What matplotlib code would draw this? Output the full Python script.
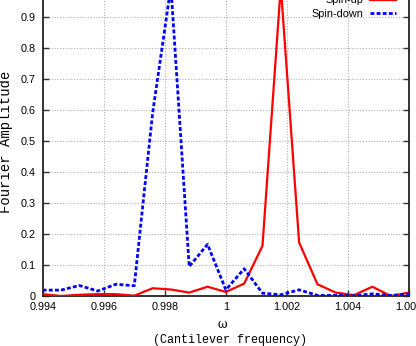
import matplotlib
matplotlib.use("Agg")
import matplotlib.pyplot as plt
from matplotlib.ticker import FixedLocator

omega = [0.9940, 0.9946, 0.9952, 0.9958, 0.9964, 0.9970, 0.9976, 0.9982, 0.9988,
         0.9994, 1.0000, 1.0006, 1.0012, 1.0018, 1.0024, 1.0030, 1.0036, 1.0042,
         1.0048, 1.0054, 1.0060]
spin_up = [0.006, 0.000, 0.004, 0.006, 0.006, 0.001, 0.025, 0.021, 0.011,
           0.030, 0.013, 0.040, 0.162, 1.000, 0.173, 0.038, 0.011, 0.003,
           0.030, 0.000, 0.011]
spin_down = [0.019, 0.019, 0.034, 0.016, 0.038, 0.033, 0.590, 1.000, 0.095,
             0.167, 0.020, 0.088, 0.009, 0.004, 0.020, 0.002, 0.002, 0.001,
             0.007, 0.002, 0.006]
xticks = [0.994, 0.996, 0.998, 1.0, 1.002, 1.004, 1.006]
xticklabels = ["0.994", "0.996", "0.998", "1", "1.002", "1.004", "1.006"]
yticks = [0, 0.1, 0.2, 0.3, 0.4, 0.5, 0.6, 0.7, 0.8, 0.9, 1.0]
yticklabels = ["0", "0.1", "0.2", "0.3", "0.4", "0.5", "0.6", "0.7", "0.8", "0.9", "1"]

W, H = 416, 346
fig = plt.figure(figsize=(W / 100, H / 100), dpi=100)
left_px, right_px = 42.7, 409.0
y0_px, y1_px = 296.0, 296.0 - 309.5
ax = fig.add_axes([left_px / W, 1 - y0_px / H, (right_px - left_px) / W, (y0_px - y1_px) / H])

ax.plot(omega, spin_up, color="#ff0000", lw=1.6, label="Spin-up", zorder=3)
ax.plot(omega, spin_down, color="#0000ff", lw=2.0, linestyle=(0, (1.4, 0.8)),
        label="Spin-down", zorder=3)

ax.set_xlim(0.994, 1.006)
ax.set_ylim(0, 1.0)
ax.xaxis.set_major_locator(FixedLocator(xticks))
ax.yaxis.set_major_locator(FixedLocator(yticks))
ax.set_xticklabels(xticklabels)
ax.set_yticklabels(yticklabels)
for lab in ax.get_xticklabels() + ax.get_yticklabels():
    lab.set_fontfamily("Liberation Sans")
    lab.set_fontsize(7.8)
ax.tick_params(direction="in", length=4, width=1.0, top=True, right=True,
               colors="#333333", labelcolor="black")
ax.tick_params(axis="x", pad=4)
ax.tick_params(axis="y", pad=5)
ax.grid(True, color="#b0b0b0", linestyle=(0, (1, 1.5)), linewidth=0.8)
for s in ax.spines.values():
    s.set_linewidth(1.3)
    s.set_color("#222222")

leg = ax.legend(loc="upper right", bbox_to_anchor=((400 - left_px) / (right_px - left_px),
                (y0_px - (-9)) / (y0_px - y1_px)),
                frameon=False, markerfirst=False, handlelength=2.4,
                prop={"family": "Liberation Sans", "size": 7.8}, labelspacing=0.3,
                borderaxespad=0, handletextpad=0.6)

fig.text(6 / W, 1 - 142 / H, "Fourier Amplitude", rotation=90, ha="center", va="center",
         family="Liberation Mono", fontsize=10)
fig.text(222 / W, 1 - 324 / H, "ω", ha="center", va="center", family="DejaVu Serif", fontsize=8.5)
fig.text(230 / W, 1 - 340 / H, "(Cantilever frequency)", ha="center", va="center",
         family="Liberation Mono", fontsize=8.5)

fig.savefig("out.png", dpi=100)
